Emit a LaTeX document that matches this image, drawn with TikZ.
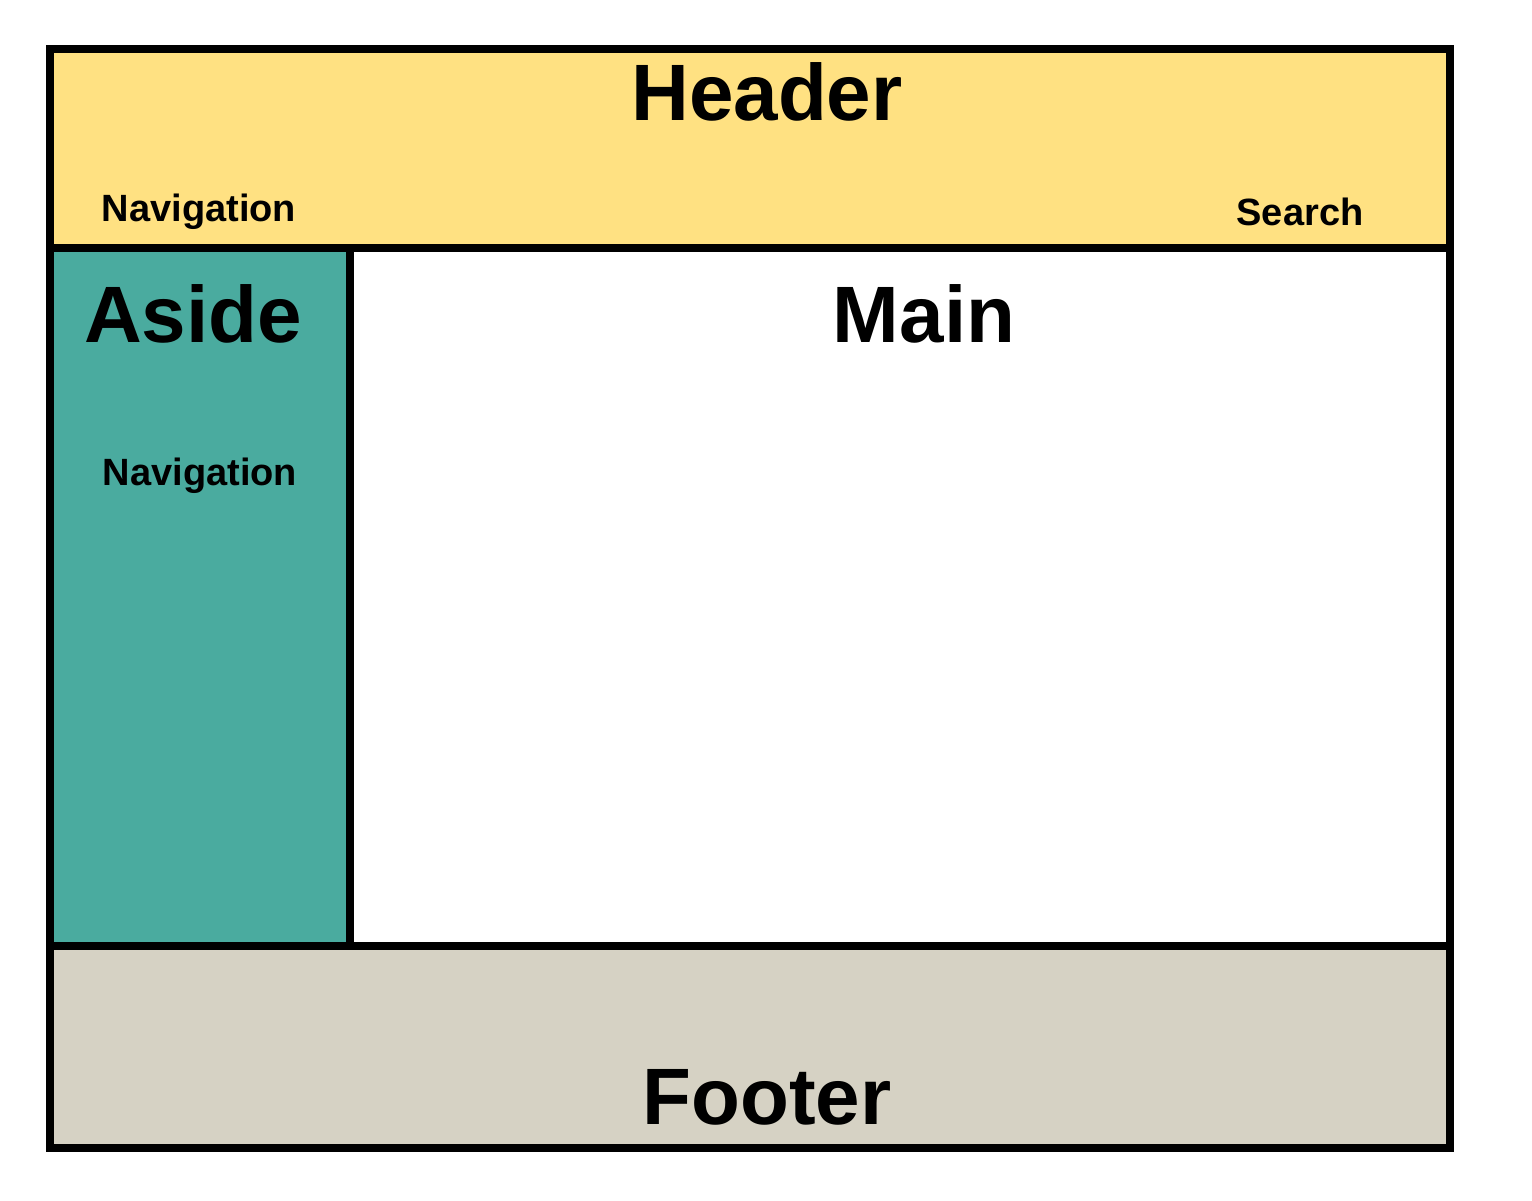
\documentclass[tikz,border=0pt]{standalone}
\usepackage{fontspec}
\setmainfont{Liberation Sans}
\definecolor{hdr}{HTML}{FFE182}
\definecolor{asd}{HTML}{4AAB9F}
\definecolor{ftr}{HTML}{D6D2C4}
\begin{document}
\begin{tikzpicture}[x=0.5pt,y=-0.5pt,
  box/.style={draw=black,line width=4pt},
  big/.style={font=\bfseries\fontsize{40}{44}\selectfont,inner sep=0pt},
  small/.style={font=\bfseries\fontsize{19}{22}\selectfont,inner sep=0pt}]
\useasboundingbox (0,0) rectangle (1532,1200);
\fill[hdr] (50,49) rectangle (1450,248);
\fill[asd] (50,248) rectangle (350,946);
\fill[white] (350,248) rectangle (1450,946);
\fill[ftr] (50,946) rectangle (1450,1148);
\draw[box] (50,248) -- (1450,248);
\draw[box] (50,946) -- (1450,946);
\draw[box] (350,248) -- (350,946);
\draw[box] (50,49) rectangle (1450,1148);
\node[big] (h) at (767,92) {Header};
\node[small] (n1) at (199,212) {Navigation};
\node[small] (s) at (1300,212) {Search};
\node[big] (a) at (193,314) {Aside};
\node[small] (n2) at (200,476) {Navigation};
\node[big] (m) at (924,314) {Main};
\node[big] (f) at (767,1097) {Footer};
\end{tikzpicture}
\end{document}
